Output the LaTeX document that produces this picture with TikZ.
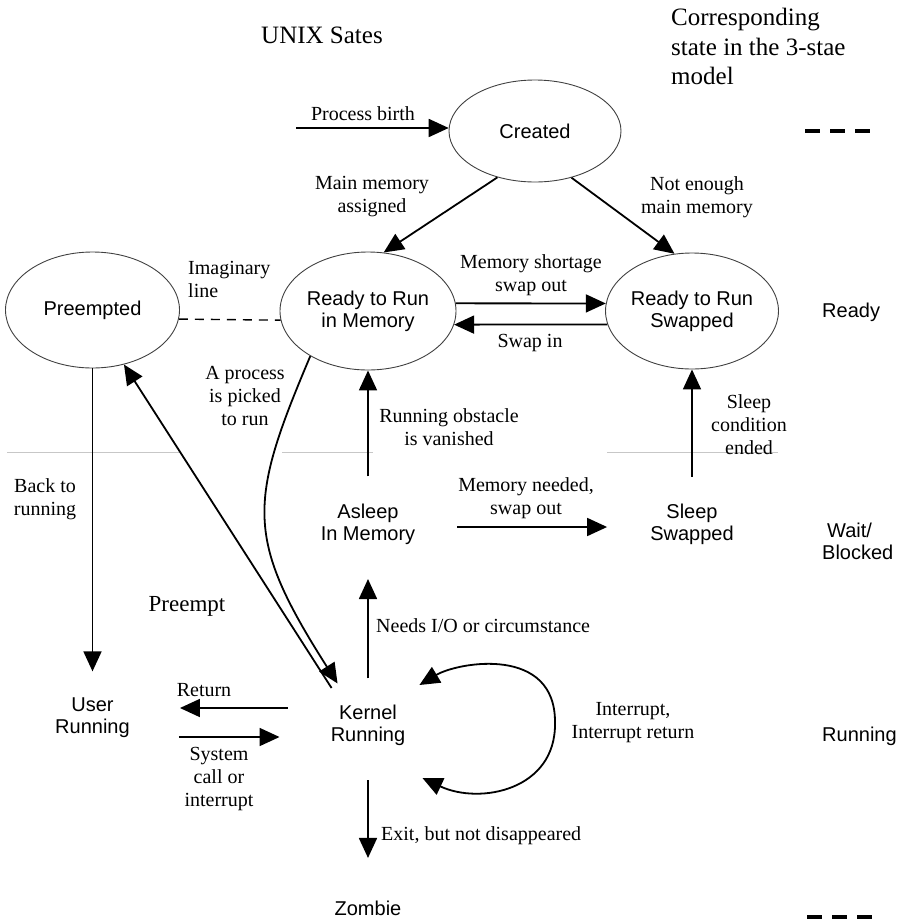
\documentclass[tikz,border=0pt]{standalone}
\usepackage{fontspec}
\setmainfont{Liberation Serif}
\setsansfont{Liberation Sans}
\usetikzlibrary{arrows.meta,calc,shapes.geometric}
\begin{document}
\begin{tikzpicture}[x=1pt,y=-1pt,
  lbl/.style={inner sep=0pt, font=\fontsize{20}{23}\selectfont, align=center},
  hdr/.style={inner sep=0pt, font=\fontsize{25}{29.5}\selectfont, align=left},
  st/.style={inner sep=0pt, font=\sffamily\fontsize{20}{22}\selectfont, align=center},
  stell/.style={st, ellipse, draw=black!75, line width=0.9pt},
  arr/.style={line width=1.8pt, -{Triangle[length=20pt,width=18pt]}},
  biarr/.style={line width=1.8pt, {Triangle[length=20pt,width=18pt]}-{Triangle[length=20pt,width=18pt]}},
  imag/.style={line width=1.4pt, dash pattern=on 9pt off 7pt},
  sep/.style={draw=black!22, line width=1pt},
  legdash/.style={line width=4.5pt, dash pattern=on 15pt off 10pt}
]
\useasboundingbox (0,0) rectangle (903,919);

% headings
\node[hdr] (title) at (322,35) {UNIX Sates};
\node[hdr, anchor=north west] (legend) at (671,8) {Corresponding\\state in the 3-stae\\model};

% zone separators (partly hidden)
\draw[sep] (7,452) -- (180,452);
\draw[sep] (282,452) -- (373,452);
\draw[sep] (607,452) -- (778,452);

% legend dashes
\draw[legdash] (805,131) -- (870,131);
\draw[legdash] (807,917) -- (872,917);

% states
\node[stell, minimum width=172pt, minimum height=102pt] (cr) at (535,131) {Created};
\node[stell, minimum width=174pt, minimum height=116pt] (pe) at (92.5,310) {Preempted};
\node[stell, minimum width=176pt, minimum height=118pt] (rm) at (368,311) {Ready to Run\\in Memory};
\node[stell, minimum width=172pt, minimum height=116pt] (rs) at (692,311) {Ready to Run\\Swapped};
\node[st] (as) at (368,524.5) {Asleep\\In Memory};
\node[st] (ss) at (692,524) {Sleep\\Swapped};
\node[st] (ur) at (92.5,718) {User\\Running};
\node[st] (kr) at (368,725.5) {Kernel\\Running};
\node[st] (zb) at (368,908) {Zombie};

% three-state model column
\node[st, anchor=west] (qready) at (822,312) {Ready};
\node[st, anchor=west, align=left] (qwait) at (822,541.5) {\hspace*{5pt}Wait/\\Blocked};
\node[st, anchor=west] (qrun) at (822,736) {Running};

% transition labels
\node[lbl] (lbirth) at (363,114) {Process birth};
\node[lbl] (lmain) at (372,197) {Main memory\\assigned};
\node[lbl] (lnoten) at (697,197) {Not enough\\main memory};
\node[lbl, anchor=west, align=left] (limag) at (188,279) {Imaginary\\line};
\node[lbl] (lshort) at (531,275) {Memory shortage\\swap out};
\node[lbl] (lswapin) at (530,343) {Swap in};
\node[lbl] (lpick) at (245,396) {A process\\is picked\\to run};
\node[lbl] (lobst) at (449,427) {Running obstacle\\is vanished};
\node[lbl] (lsleep) at (749,425) {Sleep\\condition\\ended};
\node[lbl] (lback) at (45,499) {Back to\\running};
\node[lbl] (lneed) at (526,498) {Memory needed,\\swap out};
\node[lbl, font=\fontsize{23}{26}\selectfont] (lpre) at (187,606) {Preempt};
\node[lbl, anchor=west] (lio) at (376,626) {Needs I/O or circumstance};
\node[lbl] (lret) at (204,690) {Return};
\node[lbl] (lsys) at (219,779) {System\\call or\\interrupt};
\node[lbl] (lint) at (633,723) {Interrupt,\\Interrupt return};
\node[lbl, anchor=west] (lexit) at (381,836) {Exit, but not disappeared};

% transitions
\coordinate (birth) at (296,128);
\draw[arr] (birth) -- (cr.178);
\draw[arr] (cr.-129) -- (rm.75);
\draw[arr] (cr.-52) -- (rs.107);
\draw[imag] (pe.-6) -- (rm.186);
\draw[arr] (rm.5) -- (rs.175);
\draw[arr] (rs.189) -- (rm.-9);
\draw[arr] ([yshift=27.5pt]as.north) -- (rm.south);
\draw[arr] ([yshift=26.5pt]ss.north) -- (rs.south);
\draw[arr] ([xshift=42pt,yshift=-2.5pt]as.east) -- ([xshift=-43pt,yshift=-3pt]ss.west);
\draw[arr] (pe.south) -- ([yshift=26.5pt]ur.north);
\draw[arr] ([xshift=1pt,yshift=17pt]kr.north west) -- (pe.-60);
\draw[arr] (rm.218) .. controls (248,503) and (245,538) .. ([xshift=7pt,yshift=21.5pt]kr.north west);
\draw[arr] ([yshift=26.5pt]kr.north) -- ([yshift=-34pt]as.south);
\draw[arr] ([yshift=-34pt]kr.south) -- ([yshift=42.5pt]zb.north);
\draw[arr] ([xshift=-43pt,yshift=17.5pt]kr.west) -- ([xshift=50pt,yshift=10pt]ur.east);
\draw[arr] ([xshift=49pt,yshift=-19pt]ur.east) -- ([xshift=-51pt,yshift=-11.5pt]kr.west);
\draw[biarr] ([xshift=14pt,yshift=40.5pt]kr.east) .. controls (458,662) and (556,645) .. (555,723)
  .. controls (556,790) and (480,805) .. ([xshift=17pt,yshift=-52.5pt]kr.east);
\end{tikzpicture}
\end{document}
